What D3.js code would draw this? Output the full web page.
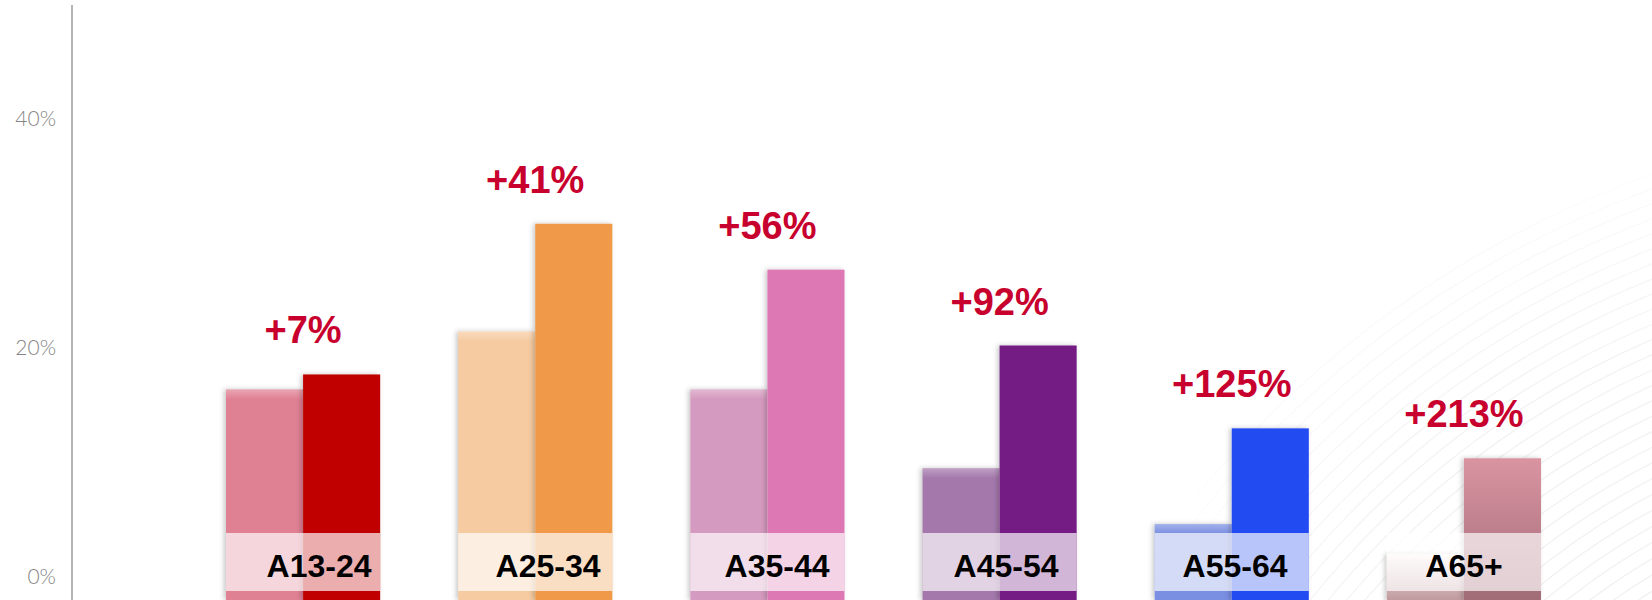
<!DOCTYPE html>
<html>
<head>
<meta charset="utf-8">
<script src="https://cdn.jsdelivr.net/npm/d3@7"></script>
<style>
  body { margin: 0; background: #fff; }
  svg { display: block; }
</style>
</head>
<body>
<div id="chart"></div>
<script>
// age groups and share of audience before / after (in %)
var ageGroups = ["A13-24", "A25-34", "A35-44", "A45-54", "A55-64", "A65+"];
var shareBefore = [21.1, 26.9, 21.1, 13.2, 7.6, 4.6];
var shareAfter = [22.6, 37.7, 33.1, 25.5, 17.2, 14.2];
var growthLabels = ["+7%", "+41%", "+56%", "+92%", "+125%", "+213%"];
var yTicks = [0, 20, 40];

var colorBefore = ["#e08093", "#f6cba1", "#d59abf", "#a478ab", "#7a8ee2", "url(#g65a)"];
var colorAfter = ["#c00000", "#f09a48", "#dd78b5", "#741a84", "#234bf2", "url(#g65b)"];

var width = 1652, height = 600;

var svg = d3.select("#chart")
  .append("svg")
  .attr("width", width)
  .attr("height", height);

var defs = svg.append("defs");

var gA = defs.append("linearGradient").attr("id", "g65a")
  .attr("x1", 0).attr("y1", 0).attr("x2", 0).attr("y2", 1);
gA.append("stop").attr("offset", "0%").attr("stop-color", "#fbeeee");
gA.append("stop").attr("offset", "100%").attr("stop-color", "#bf9a9e");

var gB = defs.append("linearGradient").attr("id", "g65b")
  .attr("x1", 0).attr("y1", 0).attr("x2", 0).attr("y2", 1);
gB.append("stop").attr("offset", "0%").attr("stop-color", "#da94a1");
gB.append("stop").attr("offset", "100%").attr("stop-color", "#a16c77");

var hl = defs.append("linearGradient").attr("id", "topHl")
  .attr("x1", 0).attr("y1", 0).attr("x2", 0).attr("y2", 1);
hl.append("stop").attr("offset", "0%").attr("stop-color", "#fff").attr("stop-opacity", 0.3);
hl.append("stop").attr("offset", "100%").attr("stop-color", "#fff").attr("stop-opacity", 0);

var shadow = defs.append("filter").attr("id", "shadow")
  .attr("x", "-20%").attr("y", "-20%").attr("width", "140%").attr("height", "140%");
shadow.append("feDropShadow")
  .attr("dx", -2).attr("dy", 0).attr("stdDeviation", 2.5)
  .attr("flood-color", "#000").attr("flood-opacity", 0.22);

// faint arcs in the background, bottom right
var fade = defs.append("radialGradient").attr("id", "fade")
  .attr("gradientUnits", "userSpaceOnUse")
  .attr("cx", 1652).attr("cy", 640).attr("r", 520);
fade.append("stop").attr("offset", "0%").attr("stop-color", "#fff").attr("stop-opacity", 1);
fade.append("stop").attr("offset", "55%").attr("stop-color", "#fff").attr("stop-opacity", 0.85);
fade.append("stop").attr("offset", "100%").attr("stop-color", "#fff").attr("stop-opacity", 0);
defs.append("mask").attr("id", "arcMask")
  .append("rect").attr("width", width).attr("height", height).attr("fill", "url(#fade)");

var arcs = svg.append("g").attr("mask", "url(#arcMask)");
arcs.selectAll("circle")
  .data(d3.range(45))
  .enter()
  .append("circle")
  .attr("cx", 2000).attr("cy", 1150)
  .attr("r", function(d) { return 420 + d * 14; })
  .attr("fill", "none")
  .attr("stroke", "#000")
  .attr("stroke-opacity", 0.06)
  .attr("stroke-width", 1.3);

// scales
var x0 = d3.scaleBand()
  .domain(ageGroups)
  .range([187, 1580])
  .paddingInner(0.336)
  .paddingOuter(0.168);

var x1 = d3.scaleBand()
  .domain(["before", "after"])
  .range([0, x0.bandwidth()]);

var xLabel = d3.scalePoint()
  .domain(ageGroups)
  .range([319, 1464]);

// bars grow from the bottom edge
var y = d3.scaleLinear()
  .domain([0, 50])
  .range([height, 101]);

// the slide's axis labels are on their own scale, not tied to the bars
var yAxisScale = d3.scaleLinear()
  .domain([0, 40])
  .range([577, 119]);

var yAxis = svg.append("g")
  .attr("transform", "translate(72,0)")
  .call(d3.axisLeft(yAxisScale).tickValues(yTicks).tickSize(0).tickPadding(16)
    .tickFormat(function(d) { return d + "%"; }));
yAxis.select(".domain").remove();
yAxis.selectAll("text")
  .attr("fill", "#858585")
  .style("font-family", "Lato, 'Open Sans', sans-serif")
  .style("font-weight", 300)
  .style("font-size", "21px");

svg.append("line")
  .attr("x1", 72).attr("x2", 72)
  .attr("y1", 5).attr("y2", height)
  .attr("stroke", "#b4b4b4")
  .attr("stroke-width", 2);

var rows = ageGroups.map(function(g, i) {
  return { group: g, before: shareBefore[i], after: shareAfter[i], label: growthLabels[i], i: i };
});

var groups = svg.selectAll(".grp")
  .data(rows)
  .enter()
  .append("g")
  .attr("class", "grp")
  .attr("transform", function(d) { return "translate(" + x0(d.group) + ",0)"; });

// before bars
groups.append("rect")
  .attr("x", x1("before"))
  .attr("y", function(d) { return y(d.before); })
  .attr("width", x1.bandwidth())
  .attr("height", function(d) { return y(0) - y(d.before); })
  .attr("fill", function(d) { return colorBefore[d.i]; })
  .attr("filter", "url(#shadow)");

groups.append("rect")
  .attr("x", x1("before"))
  .attr("y", function(d) { return y(d.before); })
  .attr("width", x1.bandwidth())
  .attr("height", 10)
  .attr("fill", "url(#topHl)");

// after bars
groups.append("rect")
  .attr("x", x1("after"))
  .attr("y", function(d) { return y(d.after); })
  .attr("width", x1.bandwidth())
  .attr("height", function(d) { return y(0) - y(d.after); })
  .attr("fill", function(d) { return colorAfter[d.i]; })
  .attr("filter", "url(#shadow)");

// translucent label strip
groups.append("rect")
  .attr("x", 0)
  .attr("y", height - 67)
  .attr("width", x0.bandwidth())
  .attr("height", 58)
  .attr("fill", "#fff")
  .attr("fill-opacity", 0.68);

// growth labels
groups.append("text")
  .attr("x", x0.bandwidth() / 2)
  .attr("y", function(d) { return y(d.after) - 31; })
  .attr("text-anchor", "middle")
  .attr("fill", "#c8002d")
  .style("font-family", "'Liberation Sans', Arial, sans-serif")
  .style("font-weight", "bold")
  .style("font-size", "38px")
  .text(function(d) { return d.label; });

// category labels
svg.selectAll(".cat")
  .data(ageGroups)
  .enter()
  .append("text")
  .attr("class", "cat")
  .attr("x", function(d) { return xLabel(d); })
  .attr("y", 577)
  .attr("text-anchor", "middle")
  .attr("fill", "#000")
  .style("font-family", "'Liberation Sans', Arial, sans-serif")
  .style("font-weight", "bold")
  .style("font-size", "32px")
  .text(function(d) { return d; });
</script>
</body>
</html>
